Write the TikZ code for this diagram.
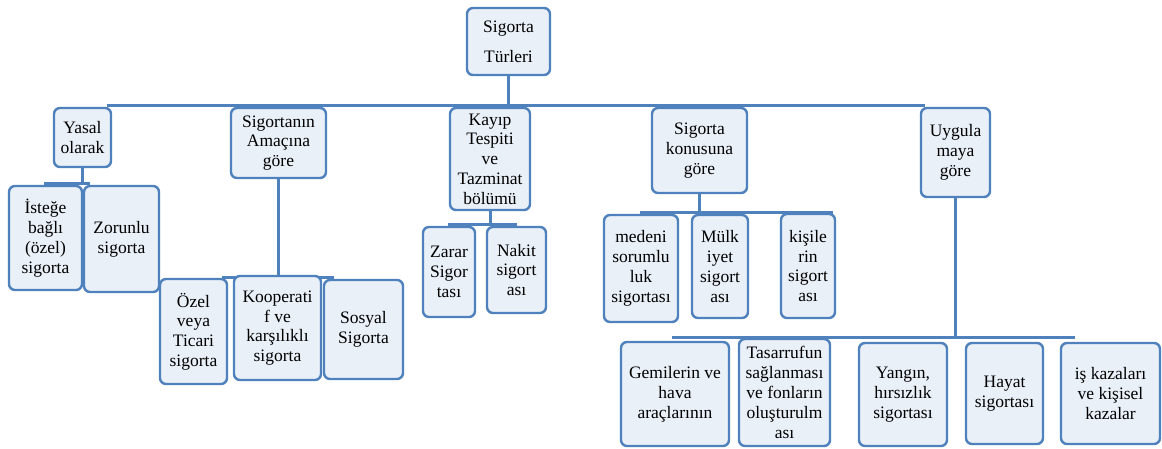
\documentclass[tikz,border=0pt]{standalone}
\usepackage{fontspec}
\setmainfont{Liberation Serif}
\usetikzlibrary{backgrounds}
\definecolor{edgeblue}{RGB}{79,129,189}
\definecolor{paleblue}{RGB}{234,240,248}
\tikzset{
  box/.style={draw=edgeblue, fill=paleblue, line width=2.4pt, rounded corners=6pt,
    align=center, inner sep=1pt, font=\fontsize{17.5}{19.8}\selectfont},
  conn/.style={draw=edgeblue, line width=3pt}
}
% box: name, left, top, right, bottom, text
\newcommand\bx[6]{%
  \pgfmathsetmacro\bxw{#4-#2}\pgfmathsetmacro\bxh{#5-#3}%
  \node[box, minimum width=\bxw pt, minimum height=\bxh pt] (#1)
    at ({(#2+#4)/2},{(#3+#5)/2}) {#6};}
\begin{document}
\begin{tikzpicture}[x=1pt,y=-1pt]
\useasboundingbox (0,0) rectangle (1162,449);

% root
\bx{root}{467}{8}{550}{75}{Sigorta\\[10pt]Türleri}

% first level
\bx{yasal}{54}{108}{111}{167}{Yasal\\olarak}
\bx{amac}{231}{108}{326}{178}{Sigortanın\\Amaçına\\göre}
\bx{kayip}{450}{108}{530}{210}{Kayıp\\Tespiti\\ve\\Tazminat\\bölümü}
\bx{konu}{652}{108}{747}{193}{Sigorta\\konusuna\\göre}
\bx{uygula}{921}{108}{990}{197}{Uygula\\maya\\göre}

% under "Yasal olarak"
\bx{istege}{9}{186}{82}{290}{İsteğe\\bağlı\\(özel)\\sigorta}
\bx{zorunlu}{84}{186}{159}{292}{Zorunlu\\sigorta}

% under "Sigortanın Amaçına göre"
\bx{ozel}{160}{279}{227}{384}{Özel\\veya\\Ticari\\sigorta}
\bx{koop}{234}{276}{321}{380}{Kooperati\\f ve\\karşılıklı\\sigorta}
\bx{sosyal}{324}{280}{403}{379}{Sosyal\\Sigorta}

% under "Kayıp Tespiti ve Tazminat bölümü"
\bx{zarar}{423}{227}{475}{317}{Zarar\\Sigor\\tası}
\bx{nakit}{487}{227}{546}{313}{Nakit\\sigort\\ası}

% under "Sigorta konusuna göre"
\bx{medeni}{604}{215}{678}{322}{medeni\\sorumlu\\luk\\sigortası}
\bx{mulk}{692}{215}{748}{318}{Mülk\\iyet\\sigort\\ası}
\bx{kisi}{781}{214}{835}{318}{kişile\\rin\\sigort\\ası}

% under "Uygulamaya göre"
\bx{gemi}{621}{342}{729}{446}{Gemilerin ve\\hava\\araçlarının}
\bx{tasarruf}{739}{339}{830}{446}{Tasarrufun\\sağlanması\\ve fonların\\oluşturulm\\ası}
\bx{yangin}{859}{343}{947}{446}{Yangın,\\hırsızlık\\sigortası}
\bx{hayat}{966}{343}{1043}{444}{Hayat\\sigortası}
\bx{is}{1061}{343}{1160}{444}{iş kazaları\\ve kişisel\\kazalar}

% bus end points
\coordinate (busL) at (107,106);
\coordinate (busR) at (925,106);
\coordinate (ybL) at (44,184);
\coordinate (ybR) at (90,184);
\coordinate (abL) at (222,277);
\coordinate (abR) at (334,277);
\coordinate (kbL) at (448,225);
\coordinate (kbR) at (517,225);
\coordinate (cbL) at (640,213);
\coordinate (cbR) at (833,213);
\coordinate (ubL) at (672,337);
\coordinate (ubR) at (1075,337);

\begin{scope}[on background layer]
  \fill[white] (0,0) rectangle (1162,449);
  \draw[conn] (root.south) -- (root.south |- busL);
  \draw[conn] (busL) -- (busR);
  \draw[conn] (yasal.south) -- (yasal.south |- ybL);
  \draw[conn] (ybL) -- (ybR);
  \draw[conn] (amac.south) -- (amac.south |- abL);
  \draw[conn] (abL) -- (abR);
  \draw[conn] (kayip.south) -- (kayip.south |- kbL);
  \draw[conn] (kbL) -- (kbR);
  \draw[conn] (konu.south) -- (konu.south |- cbL);
  \draw[conn] (cbL) -- (cbR);
  \draw[conn] (uygula.south) -- (uygula.south |- ubL);
  \draw[conn] (ubL) -- (ubR);
\end{scope}
\end{tikzpicture}
\end{document}
